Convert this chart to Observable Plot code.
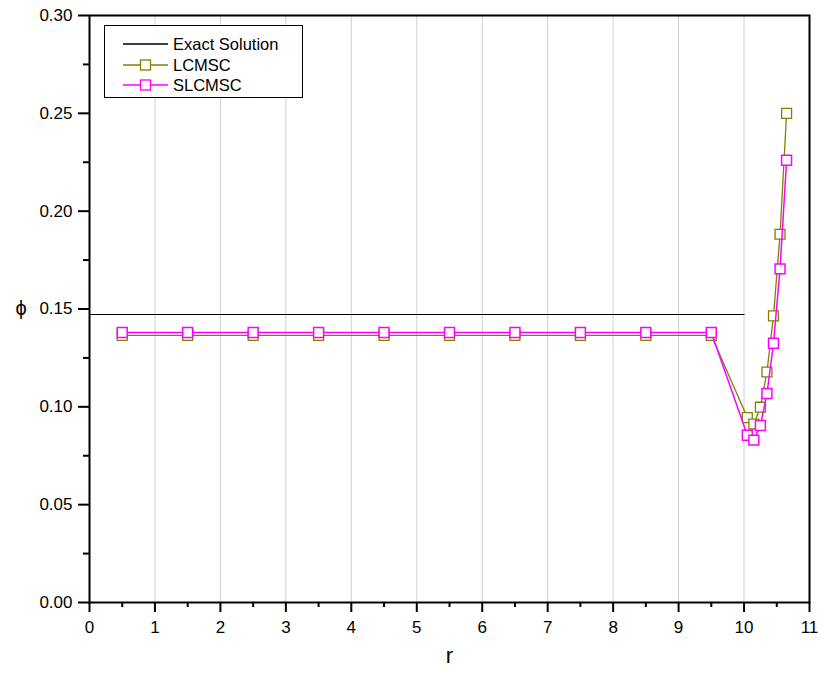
<!DOCTYPE html>
<html>
<head>
<meta charset="utf-8">
<script src="https://cdn.jsdelivr.net/npm/d3@7"></script>
<script src="https://cdn.jsdelivr.net/npm/@observablehq/plot@0.6"></script>
<style>
  body { margin: 0; background: #fff; }
  #wrap { position: relative; width: 820px; height: 681px; font-family: "Liberation Sans", Arial, sans-serif; }
  #legend { position: absolute; left: 104px; top: 25px; width: 199px; height: 73px; border: 1px solid #000; background: #fff; box-sizing: border-box; font-size: 16.5px; }
  #legend .row { position: absolute; left: 18px; height: 20px; display: flex; align-items: center; }
  #legend .row span { margin-left: 4px; }
</style>
</head>
<body>
<div id="wrap"></div>
<script>
// ---- data ----
const r = [0.5, 1.5, 2.5, 3.5, 4.5, 5.5, 6.5, 7.5, 8.5, 9.5, 10.05, 10.15, 10.25, 10.35, 10.45, 10.55, 10.65];
const lcmsc = [0.1365, 0.1365, 0.1365, 0.1365, 0.1365, 0.1365, 0.1365, 0.1365, 0.1365, 0.1365, 0.0945, 0.0912, 0.0998, 0.1178, 0.1465, 0.1882, 0.2500];
const slcmsc = [0.1380, 0.1380, 0.1380, 0.1380, 0.1380, 0.1380, 0.1380, 0.1380, 0.1380, 0.1380, 0.0855, 0.0830, 0.0905, 0.1068, 0.1325, 0.1705, 0.2260];
const exactR = [0, 10];
const exactPhi = [0.1472, 0.1472];
const xMajor = [0, 1, 2, 3, 4, 5, 6, 7, 8, 9, 10, 11];
const xMinor = [0.5, 1.5, 2.5, 3.5, 4.5, 5.5, 6.5, 7.5, 8.5, 9.5, 10.5];
const xGrid = [1, 2, 3, 4, 5, 6, 7, 8, 9, 10];
const yMajor = [0, 0.05, 0.10, 0.15, 0.20, 0.25, 0.30];
const yMinor = [0.025, 0.075, 0.125, 0.175, 0.225, 0.275];
const seriesNames = ["Exact Solution", "LCMSC", "SLCMSC"];
const colors = ["#000000", "#808000", "#ff00ff"];

const lc = r.map((x, i) => ({r: x, phi: lcmsc[i]}));
const sl = r.map((x, i) => ({r: x, phi: slcmsc[i]}));
const ex = exactR.map((x, i) => ({r: x, phi: exactPhi[i]}));

const chart = Plot.plot({
  width: 820,
  height: 681,
  marginLeft: 89,
  marginRight: 11,
  marginTop: 15,
  marginBottom: 79,
  style: { fontFamily: "'Liberation Sans', Arial, sans-serif", fontSize: "17px", background: "#fff", color: "#000" },
  x: { domain: [0, 11] },
  y: { domain: [0, 0.30] },
  marks: [
    Plot.gridX(xGrid, { stroke: "#d0d0d0", strokeOpacity: 1, strokeWidth: 1 }),
    Plot.line(ex, { x: "r", y: "phi", stroke: colors[0], strokeWidth: 1.2 }),
    Plot.line(lc, { x: "r", y: "phi", stroke: colors[1], strokeWidth: 1.3 }),
    Plot.dot(lc, { x: "r", y: "phi", symbol: "square", r: 5.6, stroke: colors[1], strokeWidth: 1.3, fill: "white" }),
    Plot.line(sl, { x: "r", y: "phi", stroke: colors[2], strokeWidth: 1.5 }),
    Plot.dot(sl, { x: "r", y: "phi", symbol: "square", r: 5.6, stroke: colors[2], strokeWidth: 1.5, fill: "white" }),
    Plot.axisX({ ticks: xMajor, tickSize: 10, tickPadding: 8, tickFormat: d3.format("d"), label: null, strokeWidth: 2, fontSize: 17 }),
    Plot.axisX({ ticks: xMinor, tickSize: 5, tickFormat: null, label: null, text: null, strokeWidth: 2 }),
    Plot.axisY({ ticks: yMajor, tickSize: 11, tickPadding: 6, tickFormat: d3.format(".2f"), label: null, strokeWidth: 2, fontSize: 17 }),
    Plot.axisY({ ticks: yMinor, tickSize: 6, tickFormat: null, label: null, text: null, strokeWidth: 2 }),
    Plot.frame({ stroke: "#000", strokeWidth: 2 }),
    Plot.text(["r"], { frameAnchor: "bottom", dy: 60, fontSize: 22 }),
    Plot.text(["ϕ"], { frameAnchor: "left", dx: -74, fontSize: 20 })
  ]
});

const wrap = document.getElementById("wrap");
wrap.appendChild(chart);

// legend (HTML overlay)
const legend = document.createElement("div");
legend.id = "legend";
const rowsTop = [8, 29, 49];
seriesNames.forEach((name, i) => {
  const row = document.createElement("div");
  row.className = "row";
  row.style.top = rowsTop[i] + "px";
  const marker = i === 0 ? "" : `<rect x="17.5" y="5" width="10" height="10" fill="white" stroke="${colors[i]}" stroke-width="1.3"/>`;
  row.innerHTML = `<svg width="46" height="20"><line x1="0" x2="45" y1="10" y2="10" stroke="${colors[i]}" stroke-width="1.3"/>${marker}</svg><span>${name}</span>`;
  legend.appendChild(row);
});
wrap.appendChild(legend);
</script>
</body>
</html>
